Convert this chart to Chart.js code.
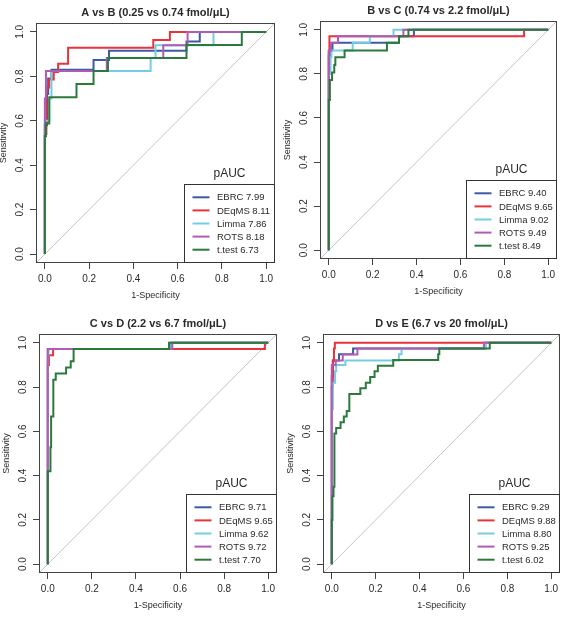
<!DOCTYPE html>
<html>
<head>
<meta charset="utf-8">
<script src="https://cdn.jsdelivr.net/npm/chart.js@4.4.1/dist/chart.umd.min.js"></script>
<style>
  body { margin: 0; background: #fff; }
  #wrap { position: relative; width: 563px; height: 617px; }
  canvas { position: absolute; }
</style>
</head>
<body>
<div id="wrap">
  <canvas id="pAB" width="282" height="300" style="left:0;top:0"></canvas>
  <canvas id="pBC" width="281" height="300" style="left:282px;top:0"></canvas>
  <canvas id="pCD" width="282" height="317" style="left:0;top:300px"></canvas>
  <canvas id="pDE" width="281" height="317" style="left:282px;top:300px"></canvas>
</div>
<script>
// ── Data (1-specificity, sensitivity) at the top of each rise ──
const methods   = ['EBRC', 'DEqMS', 'Limma', 'ROTS', 't.test'];
const tickVals  = [0, 0.2, 0.4, 0.6, 0.8, 1.0];

const titleAB = 'A vs B (0.25 vs 0.74 fmol/μL)';
const paucAB  = [7.99, 8.11, 7.86, 8.18, 6.73];
const abEBRC  = [[0,0.58],[0.01,0.72],[0.015,0.79],[0.03,0.83],[0.22,0.873],[0.29,0.915],[0.64,0.957],[0.70,1],[1,1]];
const abDEqMS = [[0,0.54],[0.007,0.75],[0.02,0.786],[0.04,0.82],[0.06,0.857],[0.105,0.929],[0.49,0.964],[0.565,1],[1,1]];
const abLimma = [[0,0.6],[0.02,0.7],[0.03,0.824],[0.478,0.882],[0.5,0.94],[0.762,1],[1,1]];
const abROTS  = [[0,0.7],[0.005,0.824],[0.28,0.882],[0.535,0.94],[0.645,1],[1,1]];
const abTtest = [[0,0.53],[0.005,0.588],[0.02,0.706],[0.143,0.765],[0.22,0.824],[0.285,0.882],[0.64,0.941],[0.89,1],[1,1]];

const titleBC = 'B vs C (0.74 vs 2.2 fmol/μL)';
const paucBC  = [9.40, 9.65, 9.02, 9.49, 8.49];
const bcEBRC  = [[0,0.88],[0.005,0.906],[0.017,0.941],[0.32,0.971],[0.388,1],[1,1]];
const bcDEqMS = [[0,0.9],[0.003,0.971],[0.89,1],[1,1]];
const bcLimma = [[0,0.8],[0.008,0.875],[0.012,0.906],[0.109,0.941],[0.187,0.971],[0.295,1],[1,1]];
const bcROTS  = [[0,0.906],[0.01,0.941],[0.042,0.971],[0.34,1],[1,1]];
const bcTtest = [[0,0.682],[0.005,0.772],[0.015,0.806],[0.025,0.84],[0.03,0.875],[0.072,0.906],[0.265,0.941],[0.32,0.971],[0.363,1],[1,1]];

const titleCD = 'C vs D (2.2 vs 6.7 fmol/μL)';
const paucCD  = [9.71, 9.65, 9.62, 9.72, 7.70];
const cdEBRC  = [[0,0.972],[0.555,1],[1,1]];
const cdDEqMS = [[0,0.9],[0.005,0.944],[0.024,0.972],[0.985,1],[1,1]];
const cdLimma = [[0,0.944],[0.003,0.972],[0.56,1],[1,1]];
const cdROTS  = [[0,0.972],[0.565,1],[1,1]];
const cdTtest = [[0,0.42],[0.012,0.528],[0.015,0.667],[0.025,0.833],[0.036,0.861],[0.083,0.889],[0.104,0.917],[0.117,0.972],[0.55,1],[1,1]];

const titleDE = 'D vs E (6.7 vs 20 fmol/μL)';
const paucDE  = [9.29, 9.88, 8.80, 9.25, 6.02];
const deEBRC  = [[0,0.85],[0.005,0.92],[0.033,0.949],[0.097,0.974],[0.70,1],[1,1]];
const deDEqMS = [[0,0.8],[0.005,0.92],[0.01,0.974],[0.014,1],[1,1]];
const deLimma = [[0,0.7],[0.005,0.82],[0.015,0.872],[0.02,0.9],[0.062,0.92],[0.306,0.949],[0.318,0.974],[0.70,1],[1,1]];
const deROTS  = [[0,0.9],[0.018,0.92],[0.05,0.947],[0.117,0.974],[0.693,1],[1,1]];
const deTtest = [[0,0.2],[0.003,0.307],[0.008,0.35],[0.012,0.59],[0.02,0.615],[0.04,0.641],[0.055,0.667],[0.068,0.692],[0.08,0.769],[0.13,0.795],[0.155,0.82],[0.175,0.846],[0.195,0.872],[0.21,0.897],[0.28,0.923],[0.485,0.949],[0.49,0.974],[0.72,1],[1,1]];

// ── Styles / layout ─────────────────────────────────────
const COLORS = ['#3b5ba3', '#e8333b', '#74cde0', '#b05cb6', '#2b7a3c'];
const INK = '#2a2a2a';
const FONT = '"Liberation Sans", Arial, Helvetica, sans-serif';

const layout = {
  pAB: { top: 23, right: 7, yw: 36, xh: 37 },
  pBC: { top: 21, right: 6, yw: 38, xh: 41 },
  pCD: { top: 34, right: 5, yw: 39, xh: 44 },
  pDE: { top: 34, right: 3, yw: 41, xh: 44 },
};

Chart.defaults.font.family = FONT;
Chart.defaults.color = INK;

// box, titles, rotated y labels and the pAUC legend, drawn R-style
const frame = {
  id: 'frame',
  afterDraw(chart) {
    const { ctx, chartArea: a, scales } = chart;
    const o = chart.options.plugins.frame;
    ctx.save();
    ctx.strokeStyle = '#444';
    ctx.lineWidth = 1;
    ctx.strokeRect(Math.round(a.left) + 0.5, Math.round(a.top) + 0.5,
                   Math.round(a.right - a.left) - 1, Math.round(a.bottom - a.top) - 1);

    ctx.fillStyle = INK;
    ctx.textAlign = 'center';
    ctx.textBaseline = 'middle';
    ctx.font = 'bold 11px ' + FONT;
    ctx.fillText(o.title, (a.left + a.right) / 2, a.top - 10.5);

    ctx.font = '9px ' + FONT;
    ctx.fillText('1-Specificity', (a.left + a.right) / 2, a.bottom + 33);
    ctx.save();
    ctx.translate(a.left - 32, (a.top + a.bottom) / 2);
    ctx.rotate(-Math.PI / 2);
    ctx.fillText('Sensitivity', 0, 0);
    ctx.restore();

    ctx.font = '10px ' + FONT;
    tickVals.forEach(v => {
      ctx.save();
      ctx.translate(a.left - 16, scales.y.getPixelForValue(v));
      ctx.rotate(-Math.PI / 2);
      ctx.fillText(v.toFixed(1), 0, 0);
      ctx.restore();
    });

    // legend
    const bw = 91, bh = 79;
    const bx = Math.round(a.right) - bw, by = Math.round(a.bottom) - bh;
    ctx.fillStyle = '#fff';
    ctx.fillRect(bx, by, bw, bh);
    ctx.strokeStyle = '#333';
    ctx.strokeRect(bx + 0.5, by + 0.5, bw - 1, bh - 1);
    ctx.fillStyle = INK;
    ctx.font = '12px ' + FONT;
    ctx.fillText('pAUC', bx + bw / 2, by - 10);
    ctx.font = '9.5px ' + FONT;
    ctx.textAlign = 'left';
    methods.forEach((m, i) => {
      const y = by + 13.3 + i * 13.1;
      ctx.strokeStyle = COLORS[i];
      ctx.lineWidth = 2;
      ctx.beginPath();
      ctx.moveTo(bx + 8.5, y);
      ctx.lineTo(bx + 25.5, y);
      ctx.stroke();
      ctx.fillText(m + ' ' + o.pauc[i].toFixed(2), bx + 33, y + 0.5);
    });
    ctx.restore();
  }
};

function axis(fit) {
  return {
    type: 'linear',
    min: -0.04,
    max: 1.04,
    afterBuildTicks: s => { s.ticks = tickVals.map(v => ({ value: v })); },
    afterFit: fit,
    grid: { drawOnChartArea: false, drawTicks: true, tickLength: 6, tickColor: '#444' },
    border: { display: false },
  };
}

function panel(id, title, curves, pauc) {
  const g = layout[id];
  const datasets = curves.map((c, i) => ({
    label: methods[i],
    data: [{ x: 0, y: 0 }].concat(c.map(p => ({ x: p[0], y: p[1] }))),
    borderColor: COLORS[i],
    borderWidth: 2,
    stepped: 'before',
    pointRadius: 0,
    fill: false,
    order: methods.length - i,
  }));
  datasets.push({
    label: 'diag',
    data: [{ x: -0.04, y: -0.04 }, { x: 1.04, y: 1.04 }],
    borderColor: '#c4c4c4',
    borderWidth: 1,
    pointRadius: 0,
    order: 10,
  });

  const x = axis(s => { s.height = g.xh; });
  x.ticks = { font: { size: 10 }, padding: 4, maxRotation: 0, callback: v => v.toFixed(1) };
  const y = axis(s => { s.width = g.yw; });
  y.ticks = { display: false };

  return new Chart(document.getElementById(id), {
    type: 'line',
    data: { datasets },
    options: {
      responsive: false,
      animation: false,
      layout: { padding: { top: g.top, right: g.right, left: 0, bottom: 0 } },
      plugins: {
        legend: { display: false },
        tooltip: { enabled: false },
        frame: { title, pauc },
      },
      scales: { x, y },
    },
    plugins: [frame],
  });
}

panel('pAB', titleAB, [abEBRC, abDEqMS, abLimma, abROTS, abTtest], paucAB);
panel('pBC', titleBC, [bcEBRC, bcDEqMS, bcLimma, bcROTS, bcTtest], paucBC);
panel('pCD', titleCD, [cdEBRC, cdDEqMS, cdLimma, cdROTS, cdTtest], paucCD);
panel('pDE', titleDE, [deEBRC, deDEqMS, deLimma, deROTS, deTtest], paucDE);
</script>
</body>
</html>
